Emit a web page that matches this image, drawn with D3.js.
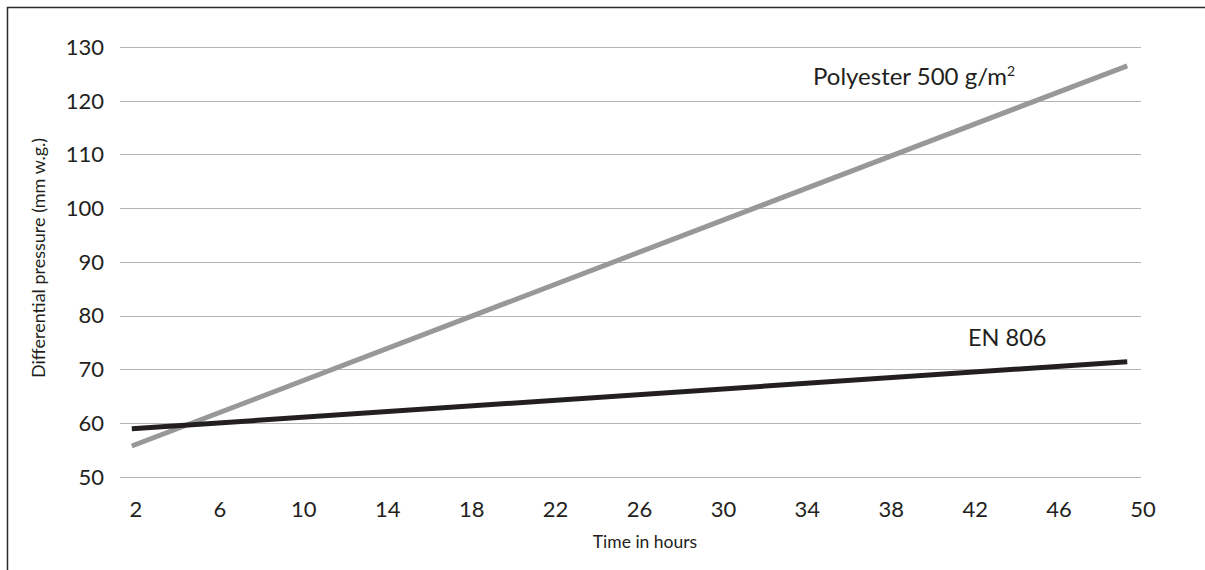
<!DOCTYPE html>
<html>
<head>
<meta charset="utf-8">
<script src="https://cdn.jsdelivr.net/npm/d3@7"></script>
<style>
  body { margin: 0; background: #fff; }
  svg { display: block; font-family: Lato, "Open Sans", sans-serif; }
</style>
</head>
<body>
<div id="chart"></div>
<script>
// values (end points of the two straight lines)
const hours = [1.8, 49.25];
const polyester = [55.7, 126.5];
const en806 = [58.9, 71.4];

const xTicks = [2, 6, 10, 14, 18, 22, 26, 30, 34, 38, 42, 46, 50];
const yTicks = [50, 60, 70, 80, 90, 100, 110, 120, 130];

const width = 1205;
const height = 570;

const svg = d3.select('#chart')
    .append('svg')
    .attr('width', width)
    .attr('height', height);

// frame (top + left only, runs off the page on the other sides)
svg.append('rect')
    .attr('x', 7.5)
    .attr('y', 7.5)
    .attr('width', width + 20)
    .attr('height', height + 20)
    .style('fill', 'none')
    .style('stroke', '#2b2b2b')
    .style('stroke-width', 1.5);

const x = d3.scaleLinear()
    .domain([2, 50])
    .range([136, 1143]);

const y = d3.scaleLinear()
    .domain([50, 130])
    .range([476.6, 47]);

// gridlines
svg.selectAll('.grid')
    .data(yTicks)
    .enter()
    .append('line')
    .attr('x1', 120)
    .attr('x2', 1141)
    .attr('y1', (d) => Math.round(y(d)) + 0.5)
    .attr('y2', (d) => Math.round(y(d)) + 0.5)
    .style('stroke', '#b5b5b5')
    .style('stroke-width', 1.2);

// y tick labels
svg.selectAll('.ylab')
    .data(yTicks)
    .enter()
    .append('text')
    .attr('x', 104)
    .attr('y', (d) => y(d))
    .attr('dy', '0.36em')
    .style('text-anchor', 'end')
    .style('font-size', '22px')
    .style('fill', '#231f20')
    .text((d) => d);

// x tick labels
svg.selectAll('.xlab')
    .data(xTicks)
    .enter()
    .append('text')
    .attr('x', (d) => x(d))
    .attr('y', 516.5)
    .style('text-anchor', 'middle')
    .style('font-size', '22px')
    .style('fill', '#231f20')
    .text((d) => d);

const line = d3.line()
    .x((d) => x(d[0]))
    .y((d) => y(d[1]));

// Polyester
svg.append('path')
    .datum(d3.zip(hours, polyester))
    .attr('d', line)
    .style('fill', 'none')
    .style('stroke', '#98989a')
    .style('stroke-width', 5);

// EN 806
svg.append('path')
    .datum(d3.zip(hours, en806))
    .attr('d', line)
    .style('fill', 'none')
    .style('stroke', '#231f20')
    .style('stroke-width', 5);

// series labels
svg.append('text')
    .attr('x', 813)
    .attr('y', 85)
    .style('font-size', '24px')
    .style('fill', '#231f20')
    .html('Polyester 500 g/m<tspan dy="-9" font-size="14px">2</tspan>');

svg.append('text')
    .attr('x', 968)
    .attr('y', 345.5)
    .style('font-size', '23.5px')
    .style('fill', '#231f20')
    .text('EN 806');

// axis titles
svg.append('text')
    .attr('x', 645)
    .attr('y', 548)
    .style('text-anchor', 'middle')
    .style('font-size', '17.5px')
    .style('fill', '#231f20')
    .text('Time in hours');

svg.append('text')
    .attr('transform', 'translate(45, 258) rotate(-90)')
    .style('text-anchor', 'middle')
    .style('font-size', '18px')
    .style('fill', '#231f20')
    .text('Differential pressure (mm w.g.)');
</script>
</body>
</html>
